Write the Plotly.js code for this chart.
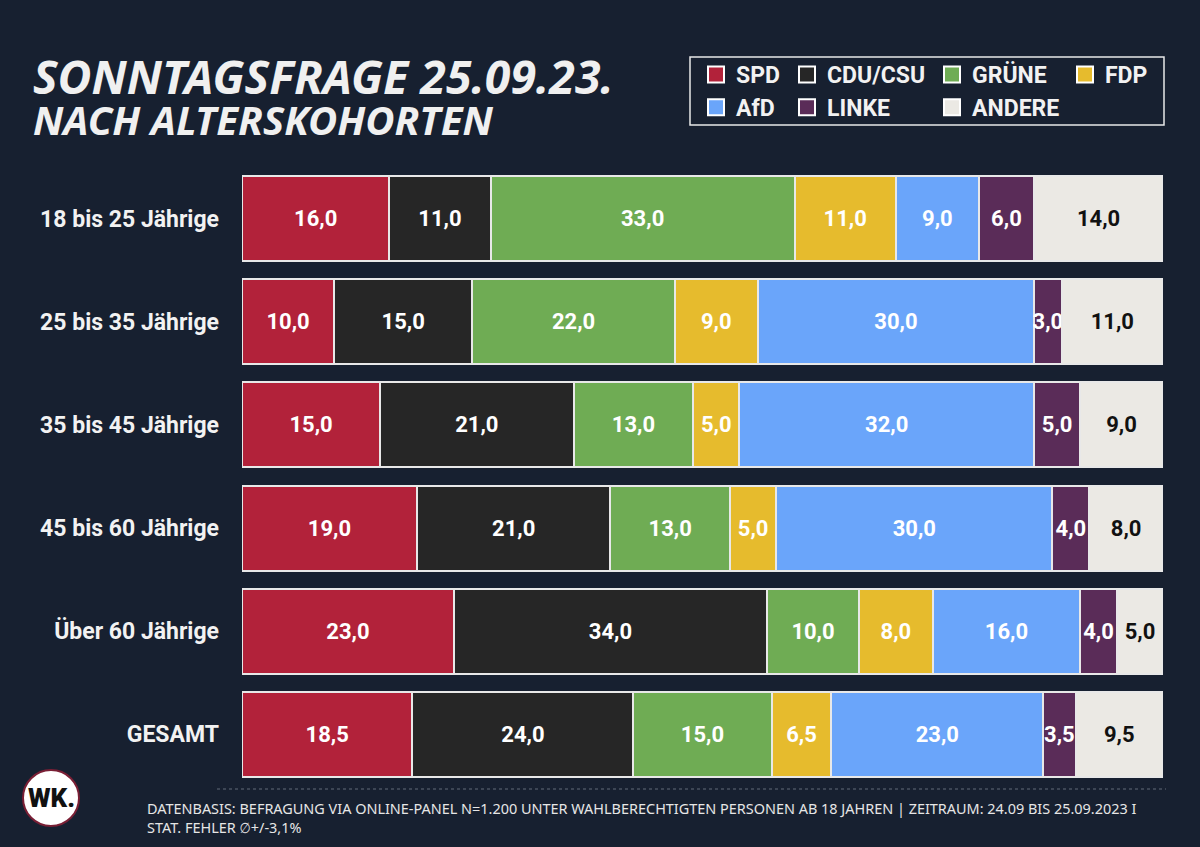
<!DOCTYPE html>
<html>
<head>
<meta charset="utf-8">
<script src="https://cdn.plot.ly/plotly-3.0.1.min.js"></script>
<style>
html,body{margin:0;padding:0;background:#172030;}
#chart{width:1200px;height:847px;}
#chart text[style*="Noto Sans"]{font-stretch:condensed;}
</style>
</head>
<body>
<div id="chart"></div>
<script>
// ---- data ----
const categories = ['18 bis 25 Jährige','25 bis 35 Jährige','35 bis 45 Jährige','45 bis 60 Jährige','Über 60 Jährige','GESAMT'];
const parties = ['SPD','CDU/CSU','GRÜNE','FDP','AfD','LINKE','ANDERE'];
const spd    = [16.0, 10.0, 15.0, 19.0, 23.0, 18.5];
const cdu    = [11.0, 15.0, 21.0, 21.0, 34.0, 24.0];
const gruene = [33.0, 22.0, 13.0, 13.0, 10.0, 15.0];
const fdp    = [11.0,  9.0,  5.0,  5.0,  8.0,  6.5];
const afd    = [ 9.0, 30.0, 32.0, 30.0, 16.0, 23.0];
const linke  = [ 6.0,  3.0,  5.0,  4.0,  4.0,  3.5];
const andere = [14.0, 11.0,  9.0,  8.0,  5.0,  9.5];
const titleText = 'SONNTAGSFRAGE 25.09.23.';
const subtitleText = 'NACH ALTERSKOHORTEN';
const footerText = 'DATENBASIS: BEFRAGUNG VIA ONLINE-PANEL N=1.200 UNTER WAHLBERECHTIGTEN PERSONEN AB 18 JAHREN | ZEITRAUM: 24.09 BIS 25.09.2023 I<br>STAT. FEHLER ∅+/-3,1%';
const logoText = 'WK.';

// ---- styles ----
const seriesValues = [spd, cdu, gruene, fdp, afd, linke, andere];
const colors = ['#b2223a','#262626','#6fac54','#e6bb2d','#6aa5fa','#5a2c58','#ebe9e4'];
const textColors = ['#ffffff','#ffffff','#ffffff','#ffffff','#ffffff','#ffffff','#111111'];
const legendOf = ['legend','legend2','legend3','legend4','legend','legend2','legend3'];
const BG = '#172030';
const LABEL_FONT = 'Roboto, sans-serif';
const NARROW_FONT = '"Noto Sans", "DejaVu Sans", sans-serif';

const traces = [];
parties.forEach((p, i) => {
  traces.push({
    type: 'bar', orientation: 'h', name: p,
    y: categories, x: seriesValues[i],
    marker: {color: colors[i], line: {color: '#e8e8e8', width: 2}},
    texttemplate: '%{x:.1f}', textposition: 'inside', insidetextanchor: 'middle',
    textangle: 0, constraintext: 'none',
    insidetextfont: {family: LABEL_FONT, size: 22, weight: 'bold', color: textColors[i]},
    hoverinfo: 'skip', showlegend: false
  });
});
// legend entries
parties.forEach((p, i) => {
  traces.push({
    type: 'scatter', mode: 'markers', name: p, x: [null], y: [null],
    marker: {symbol: 'square', size: 16, color: colors[i], line: {color: '#ffffff', width: 2}},
    legend: legendOf[i], showlegend: true, hoverinfo: 'skip'
  });
});

const L = 242, R = 37, T = 167, B = 61;
const W = 1200 - L - R, H = 847 - T - B;
const px = v => (v - L) / W;
const py = v => 1 - (v - T) / H;

function legendAt(xPix) {
  return {
    x: px(xPix), xanchor: 'left', y: py(53), yanchor: 'top',
    orientation: 'v', traceorder: 'normal', bgcolor: 'rgba(0,0,0,0)', borderwidth: 0,
    font: {family: LABEL_FONT, size: 23, weight: 'bold', color: '#f2f2f2'},
    itemclick: false, itemdoubleclick: false, tracegroupgap: 0
  };
}

const TITLE_SIZE = 52, SUB_SIZE = 42, FOOT_SIZE = 16;
const layout = {
  width: 1200, height: 847,
  paper_bgcolor: BG, plot_bgcolor: BG,
  margin: {l: L, r: R, t: T, b: B},
  barmode: 'stack', bargap: 0.176,
  separators: ',.',
  showlegend: true,
  title: {
    text: titleText, x: 33 / 1200, xanchor: 'left', xref: 'container',
    y: 1 - 78 / 847, yanchor: 'middle', yref: 'container',
    font: {family: NARROW_FONT, size: TITLE_SIZE, weight: 'bold', style: 'italic', color: '#f0f0f0'}
  },
  xaxis: {range: [0, 100], visible: false, fixedrange: true},
  yaxis: {
    type: 'category', autorange: 'reversed', showgrid: false, zeroline: false, showline: false,
    ticks: '', ticklabelstandoff: 22, fixedrange: true,
    tickfont: {family: LABEL_FONT, size: 23, weight: 'bold', color: '#f2f2f2'}
  },
  legend: legendAt(696),
  legend2: legendAt(787),
  legend3: legendAt(932),
  legend4: legendAt(1065),
  shapes: [
    {type: 'rect', xref: 'paper', yref: 'paper', x0: px(690), x1: px(1164), y0: py(125), y1: py(57),
     line: {color: '#e8e8e8', width: 1.5}, fillcolor: 'rgba(0,0,0,0)'},
    {type: 'line', xref: 'paper', yref: 'paper', x0: px(217), x1: px(1166), y0: py(789), y1: py(789),
     line: {color: '#4a5260', width: 1.5, dash: 'dot'}},
    {type: 'circle', xref: 'paper', yref: 'paper', xsizemode: 'pixel', ysizemode: 'pixel',
     xanchor: px(51), yanchor: py(798), x0: -28, x1: 28, y0: -28, y1: 28,
     fillcolor: '#ffffff', line: {color: '#7a1f35', width: 2}}
  ],
  annotations: [
    {text: subtitleText, xref: 'paper', yref: 'paper', x: px(31), xanchor: 'left', y: py(119), yanchor: 'middle',
     showarrow: false, font: {family: NARROW_FONT, size: SUB_SIZE, weight: 'bold', style: 'italic', color: '#f0f0f0'}},
    {text: footerText, xref: 'paper', yref: 'paper', x: px(145), xanchor: 'left', y: py(818), yanchor: 'middle',
     align: 'left', showarrow: false, font: {family: NARROW_FONT, size: FOOT_SIZE, color: '#e6e6e6'}},
    {text: logoText, xref: 'paper', yref: 'paper', x: px(51), xanchor: 'center', y: py(798), yanchor: 'middle',
     showarrow: false, font: {family: LABEL_FONT, size: 26, weight: 900, color: '#111111'}}
  ]
};

Plotly.newPlot('chart', traces, layout, {displayModeBar: false}).then(gd => {
  // fit the condensed texts to the widths they occupy in the reference
  const clamp = (v, a, b) => Math.max(a, Math.min(b, v));
  const t = gd.querySelector('.gtitle');
  const anns = gd.querySelectorAll('.annotation-text');
  const upd = {};
  if (t) {
    const w = t.getBBox().width;
    if (w > 0) upd['title.font.size'] = TITLE_SIZE * clamp(581 / w, 0.6, 1.4);
  }
  if (anns[0]) {
    const w = anns[0].getBBox().width;
    if (w > 0) upd['annotations[0].font.size'] = SUB_SIZE * clamp(461 / w, 0.6, 1.4);
  }
  if (anns[1]) {
    const w = anns[1].getBBox().width;
    if (w > 0) upd['annotations[1].font.size'] = FOOT_SIZE * clamp(990 / w, 0.6, 1.4);
  }
  return Plotly.relayout(gd, upd);
});
</script>
</body>
</html>
